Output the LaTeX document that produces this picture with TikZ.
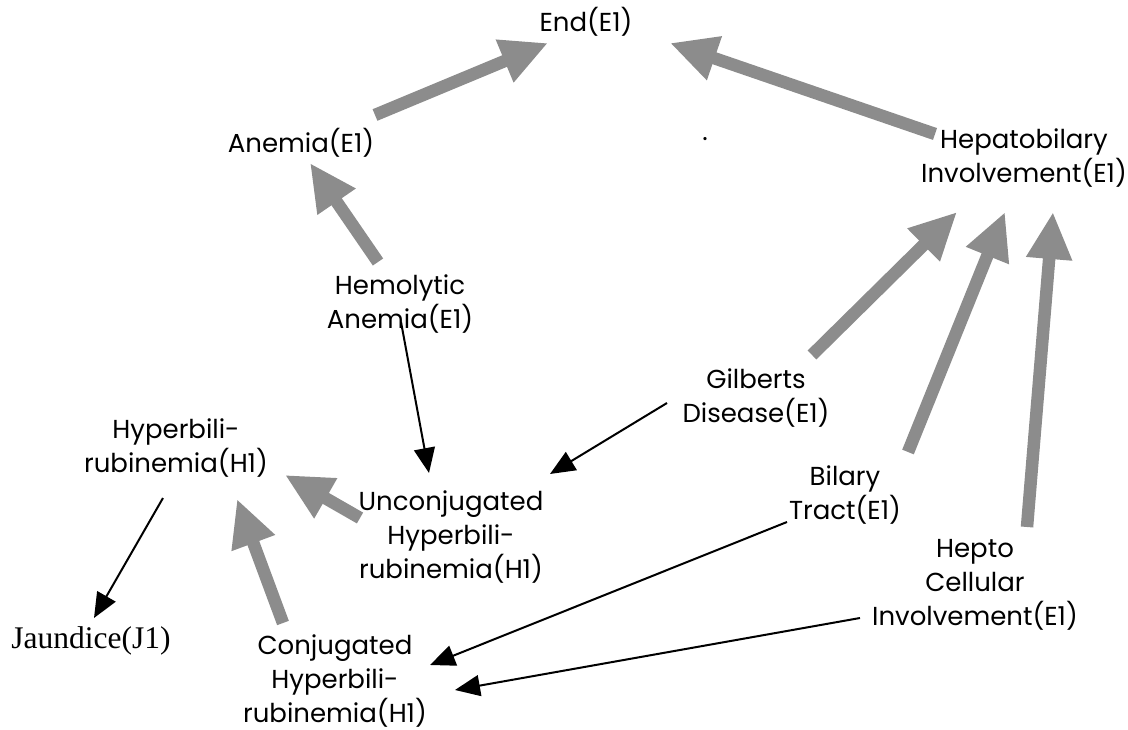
\documentclass[tikz,border=0pt]{standalone}
\usepackage{fontspec}
\setmainfont{Poppins}
\newfontfamily\timesfont{Liberation Serif}
\usepackage{tikz}
\usetikzlibrary{arrows.meta}
\definecolor{fatgray}{gray}{0.55}

\begin{document}
\begin{tikzpicture}[x=1pt,y=-1pt,
      every node/.append style={align=center,inner sep=0pt,font=\fontsize{26}{34}\selectfont},
      fat/.style={draw=fatgray,line width=12.5pt,-{Triangle[length=47pt,width=43pt]}},
      thin/.style={draw=black,line width=2pt,-{Triangle[length=25pt,width=21pt]}}]
    \useasboundingbox (0,0) rectangle (1128,730);
    \node (endE) at (586,22) {End(E1)};
    \node (anemia) at (301,143) {Anemia(E1)};
    \node (stray) [anchor=base] at (705,141) {.};
    \node (hepato) at (1024,158) {Hepatobilary\\Involvement(E1)};
    \node (hemolytic) at (400,304) {Hemolytic\\Anemia(E1)};
    \node (gilberts) at (756,398) {Gilberts\\Disease(E1)};
    \node (hyper) at (176,448) {Hyperbili-\\rubinemia(H1)};
    \node (unconj) at (451,537) {Unconjugated\\Hyperbili-\\rubinemia(H1)};
    \node (bilary) at (845,495) {Bilary\\Tract(E1)};
    \node (hepto) at (975,585) {Hepto\\Cellular\\Involvement(E1)};
    \node (jaundice) [font=\timesfont\fontsize{31.5}{36}\selectfont] at (91,641) {Jaundice(J1)};
    \node (conj) at (335,681) {Conjugated\\Hyperbili-\\rubinemia(H1)};
    % causes (gray)
    \draw[fat] ([shift={(74,-28)}]anemia.center) -- ([shift={(-38,21)}]endE.center);
    \draw[fat] ([shift={(-89,-24)}]hepato.center) -- ([shift={(84,21)}]endE.center);
    \draw[fat] ([shift={(-22,-42)}]hemolytic.center) -- ([shift={(9,20)}]anemia.center);
    \draw[fat] ([shift={(56,-43)}]gilberts.center) -- ([shift={(-67,54)}]hepato.center);
    \draw[fat] ([shift={(63,-43)}]bilary.center) -- ([shift={(-19,54)}]hepato.center);
    \draw[fat] ([shift={(52,-58)}]hepto.center) -- ([shift={(29,54)}]hepato.center);
    \draw[fat] ([shift={(-91,-19)}]unconj.center) -- ([shift={(109,27)}]hyper.center);
    \draw[fat] ([shift={(-52,-58)}]conj.center) -- ([shift={(61,51)}]hyper.center);
    % effects (black)
    \draw[thin] ([shift={(1,18)}]hemolytic.center) -- ([shift={(-22,-64)}]unconj.center);
    \draw[thin] ([shift={(-89,5)}]gilberts.center) -- ([shift={(99,-63)}]unconj.center);
    \draw[thin] ([shift={(-13,50)}]hyper.center) -- ([shift={(3,-23)}]jaundice.center);
    \draw[thin] ([shift={(-58,27)}]bilary.center) -- ([shift={(95,-16)}]conj.center);
    \draw[thin] ([shift={(-115,33)}]hepto.center) -- ([shift={(120,9)}]conj.center);
\end{tikzpicture}
\end{document}
